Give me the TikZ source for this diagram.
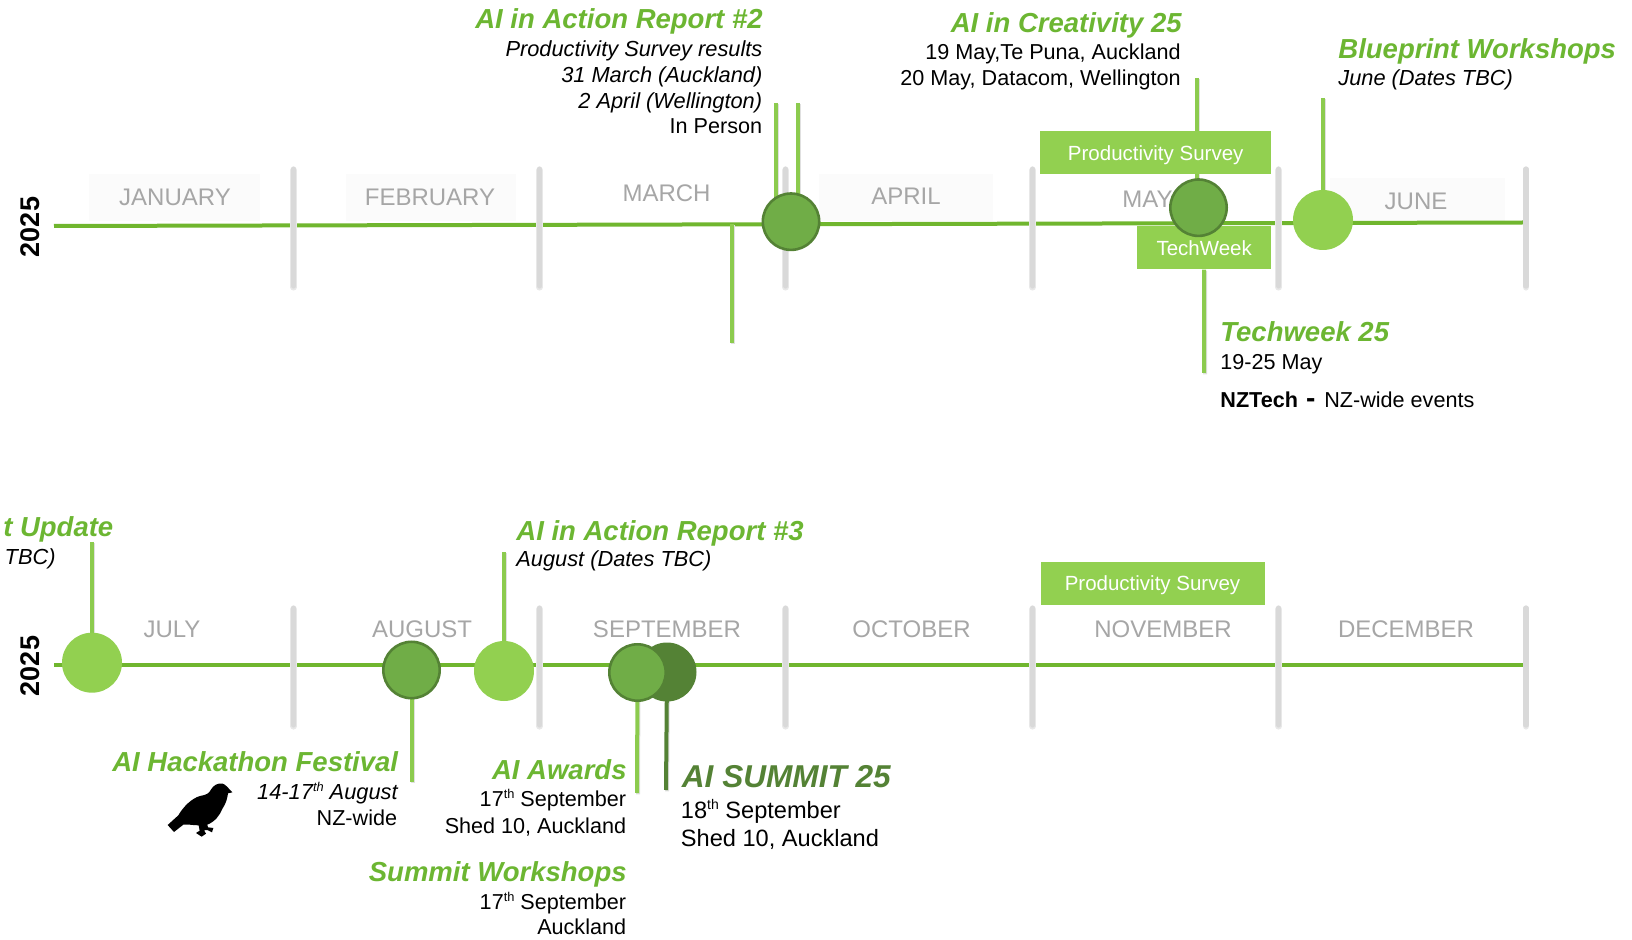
\documentclass[tikz,border=0pt]{standalone}
\usepackage{fontspec}
\setmainfont{Liberation Sans}
\pgfdeclarelayer{under}
\pgfdeclarelayer{mid}
\pgfsetlayers{under,mid,main}
\definecolor{axisgreen}{HTML}{70B62E}
\definecolor{titlegreen}{HTML}{6CB632}
\definecolor{lightgreen}{HTML}{92D050}
\definecolor{stemgreen}{HTML}{8CCB4E}
\definecolor{midgreen}{HTML}{70AD47}
\definecolor{darkgreen}{HTML}{548235}
\definecolor{tickgray}{HTML}{D9D9D9}
\definecolor{monthgray}{HTML}{A6A6A6}
\definecolor{palebox}{HTML}{FBFBFB}
\newcommand{\smallth}{\raisebox{0.36em}{\fontsize{6.4}{7}\selectfont th}}
\tikzset{
  x=0.5pt,y=-0.5pt,
  axisline/.style={draw=axisgreen,line width=2pt},
  ticksh/.style={draw=black!9,line width=3.4pt,line cap=round},
  tickline/.style={draw=tickgray,line width=2.6pt,line cap=round},
  stemline/.style={draw=stemgreen,line width=2pt,preaction={draw=black!12,line width=2pt,transform canvas={xshift=0.5pt,yshift=-0.7pt}}},
  stemdark/.style={draw=darkgreen,line width=2pt,preaction={draw=black!12,line width=2pt,transform canvas={xshift=0.5pt,yshift=-0.7pt}}},
  dotlight/.style={circle,fill=lightgreen,inner sep=0pt,minimum size=30pt},
  dotmid/.style={circle,fill=midgreen,draw=darkgreen,line width=1.3pt,inner sep=0pt,minimum size=28.2pt},
  dotdark/.style={circle,fill=darkgreen,inner sep=0pt,minimum size=29.5pt},
  barbox/.style={fill=lightgreen,inner sep=0pt,text=white,text depth=0pt,font=\fontsize{10.25}{12}\selectfont},
  paleback/.style={fill=palebox,draw=none},
  month/.style={text=monthgray,inner sep=0pt,font=\fontsize{12}{14}\selectfont},
  yearlabel/.style={rotate=90,inner sep=0pt,font=\bfseries\fontsize{13.5}{16}\selectfont},
  titleR/.style={anchor=base east,inner sep=0pt,text=titlegreen,font=\bfseries\itshape\fontsize{13.75}{16}\selectfont},
  titleL/.style={anchor=base west,inner sep=0pt,text=titlegreen,font=\bfseries\itshape\fontsize{13.75}{16}\selectfont},
  bodyR/.style={anchor=base east,inner sep=0pt,font=\fontsize{10.8}{13}\selectfont},
  bodyL/.style={anchor=base west,inner sep=0pt,font=\fontsize{10.8}{13}\selectfont},
  itR/.style={anchor=base east,inner sep=0pt,font=\itshape\fontsize{10.9}{13}\selectfont},
  itL/.style={anchor=base west,inner sep=0pt,font=\itshape\fontsize{10.9}{13}\selectfont},
}
\begin{document}
\begin{tikzpicture}
\useasboundingbox (0,0) rectangle (1632,940);
% ---------- coordinates
\foreach \n/\xx in {a/293.6,b/539.6,c/785.7,d/1032.7,e/1278.7,f/1526}{
  \coordinate (tt\n) at (\xx,169);
  \coordinate (tb\n) at (\xx,286);
  \coordinate (bt\n) at (\xx,608);
  \coordinate (bb\n) at (\xx,725);
}
\coordinate (axTopL) at (54,226);
\coordinate (axTopR) at (1524,222.5);
\coordinate (axBotL) at (54,664.5);
\coordinate (axBotR) at (1524,664.5);
\coordinate (s1top) at (776.3,103);
\coordinate (s2top) at (798,103);
\coordinate (s3top) at (731.7,224);
\coordinate (s3bot) at (731.7,343);
\coordinate (mayTop) at (1197,78);
\coordinate (twBot) at (1204,373);
\coordinate (junTop) at (1323,98);
\coordinate (julTop) at (92,542);
\coordinate (augBot) at (411.5,782);
\coordinate (rep3Top) at (504,552);
\coordinate (awBot) at (637,793);
\coordinate (sumBot) at (666,790);
% ---------- markers
\node[dotmid]   (c1) at (791,221.7) {};
\node[dotmid]   (c2) at (1198.5,207.7) {};
\node[dotlight] (c3) at (1323,220) {};
\node[dotlight] (c4) at (92,662.7) {};
\node[dotmid]   (c5) at (411.5,670) {};
\node[dotlight] (c6) at (504,671) {};
\node[dotdark]  (c8) at (667,672) {};
\node[dotmid]   (c7) at (637.5,672.5) {};
% ---------- bars
\begin{pgfonlayer}{mid}
\node[barbox,minimum width=115.4pt,minimum height=21.6pt] (ps1) at (1155.7,152.7) {Productivity Survey};
\node[barbox,minimum width=66.9pt,minimum height=21.6pt] (tw) at (1204.2,247.7) {TechWeek};
\node[barbox,minimum width=112pt,minimum height=21.4pt] (ps2) at (1152.5,583.2) {Productivity Survey};
\end{pgfonlayer}
% ---------- lines
\begin{pgfonlayer}{under}
\fill[paleback] (89,174) rectangle (260,221);
\fill[paleback] (346,174) rectangle (516,221);
\fill[paleback] (819,174) rectangle (993,221);
\fill[paleback] (1330,178) rectangle (1505,221);
\draw[axisline] (axTopL) -- (axTopR);
\draw[axisline] (axBotL) -- (axBotR);
\foreach \n in {a,b,c,d,e,f}{
  \draw[ticksh] ([yshift=-0.6pt]tt\n) -- ([yshift=-0.6pt]tb\n);
  \draw[tickline] (tt\n) -- (tb\n);
  \draw[ticksh] ([yshift=-0.6pt]bt\n) -- ([yshift=-0.6pt]bb\n);
  \draw[tickline] (bt\n) -- (bb\n);
}
\draw[stemline] (s1top) -- (s1top |- c1.center);
\draw[stemline] (s2top) -- (s2top |- c1.center);
\draw[stemline] (s3top) -- (s3bot);
\draw[stemline] (mayTop) -- (mayTop |- c2.center);
\draw[stemline] (tw.south) -- (twBot);
\draw[stemline] (junTop) -- (c3.center);
\draw[stemline] (julTop) -- (c4.center);
\draw[stemline] (c5.center) -- (augBot);
\draw[stemline] (rep3Top) -- (c6.center);
\draw[stemline] (c7.center) -- (awBot);
\draw[stemdark] (c8.center) -- (sumBot);
\end{pgfonlayer}
% ---------- months
\node[month] (jan) at (175,197) {JANUARY};
\node[month] (feb) at (430,197) {FEBRUARY};
\node[month] (mar) at (666.5,193) {MARCH};
\node[month] (apr) at (906,196) {APRIL};
\begin{pgfonlayer}{under}
\node[month,anchor=west] (may) at (1122,199) {MAY};
\end{pgfonlayer}
\node[month] (jun) at (1416,201) {JUNE};
\node[month] (jul) at (172,629) {JULY};
\node[month] (aug) at (422,629) {AUGUST};
\node[month] (sep) at (667,629) {SEPTEMBER};
\node[month] (oct) at (911.5,629) {OCTOBER};
\node[month] (nov) at (1163,629) {NOVEMBER};
\node[month] (dec) at (1406,629) {DECEMBER};
\node[yearlabel] (y1) at (30,227) {2025};
\node[yearlabel] (y2) at (30,666) {2025};
% ---------- texts, top row
\node[titleR] (r2a) at (763,29) {AI in Action Report \#2};
\node[itR] (r2b) at (762.8,56.2) {Productivity Survey results};
\node[itR] (r2c) at (762.8,82.7) {31 March (Auckland)};
\node[itR] (r2d) at (762.5,108.7) {2 April (Wellington)};
\node[bodyR] (r2e) at (762.5,134) {In Person};
\node[titleR] (cr1) at (1182,32.7) {AI in Creativity\ 25};
\node[bodyR] (cr2) at (1181,60) {19 May,Te Puna, Auckland};
\node[bodyR] (cr3) at (1181,85.5) {20 May, Datacom, Wellington};
\node[titleL] (bw1) at (1338,59) {Blueprint Workshops};
\node[itL] (bw2) at (1338,86) {June (Dates TBC)};
\node[titleL] (tk1) at (1220,341.7) {Techweek 25};
\node[bodyL] (tk2) at (1220,370) {19-25 May};
\node[bodyL] (tk3) at (1220,408) {\textbf{NZTech}\kern1pt\ {\bfseries\fontsize{14}{14}\selectfont -}\kern1.5pt\ NZ-wide events};
% ---------- texts, bottom row
\node[titleR] (up1) at (113.7,537) {t Update};
\node[itR] (up2) at (56,565) {TBC)};
\node[titleL] (r3a) at (516,540) {AI in Action Report \#3};
\node[itL] (r3b) at (516,567) {August (Dates TBC)};
\node[titleR] (hk1) at (398.5,771.7) {AI Hackathon Festival};
\node[itR] (hk2) at (398,799) {14-17\smallth{} August};
\node[bodyR] (hk3) at (397.5,825) {NZ-wide};
\node[titleR] (aw1) at (627,779) {AI Awards};
\node[bodyR] (aw2) at (626.5,806.3) {17\smallth{} September};
\node[bodyR] (aw3) at (626.5,833) {Shed 10, Auckland};
\node[titleR] (sw1) at (627,881.5) {Summit Workshops};
\node[bodyR] (sw2) at (626.5,909) {17\smallth{} September};
\node[bodyR] (sw3) at (626.5,934) {Auckland};
\node[anchor=base west,inner sep=0pt,text=darkgreen,font=\bfseries\itshape\fontsize{15.8}{18}\selectfont] (sm1) at (681.5,787) {AI SUMMIT 25};
\node[anchor=base west,inner sep=0pt,font=\fontsize{11.8}{14}\selectfont] (sm2) at (680.5,818) {18\raisebox{0.36em}{\fontsize{7}{8}\selectfont th}{} September};
\node[anchor=base west,inner sep=0pt,font=\fontsize{11.8}{14}\selectfont] (sm3) at (680.5,846) {Shed 10, Auckland};
% ---------- bird
\begin{scope}[shift={(100,740)},x=0.16667pt,y=-0.16667pt]
\fill[black] (397,157) -- (384,160) .. controls (382,175) and (378,190) .. (368,205)
  .. controls (360,225) and (345,245) .. (322,254) -- (324,262) -- (340,264) -- (336,277) -- (322,270)
  -- (312,271) -- (318,281) -- (305,290) -- (288,279) -- (299,272) -- (296,256)
  .. controls (280,256) and (262,252) .. (250,254) -- (222,276) -- (203,255) -- (235,226)
  .. controls (250,200) and (275,175) .. (300,168)
  .. controls (318,165) and (328,160) .. (332,150)
  .. controls (340,135) and (355,128) .. (368,131)
  .. controls (378,134) and (385,145) .. cycle;
\end{scope}
\end{tikzpicture}
\end{document}
